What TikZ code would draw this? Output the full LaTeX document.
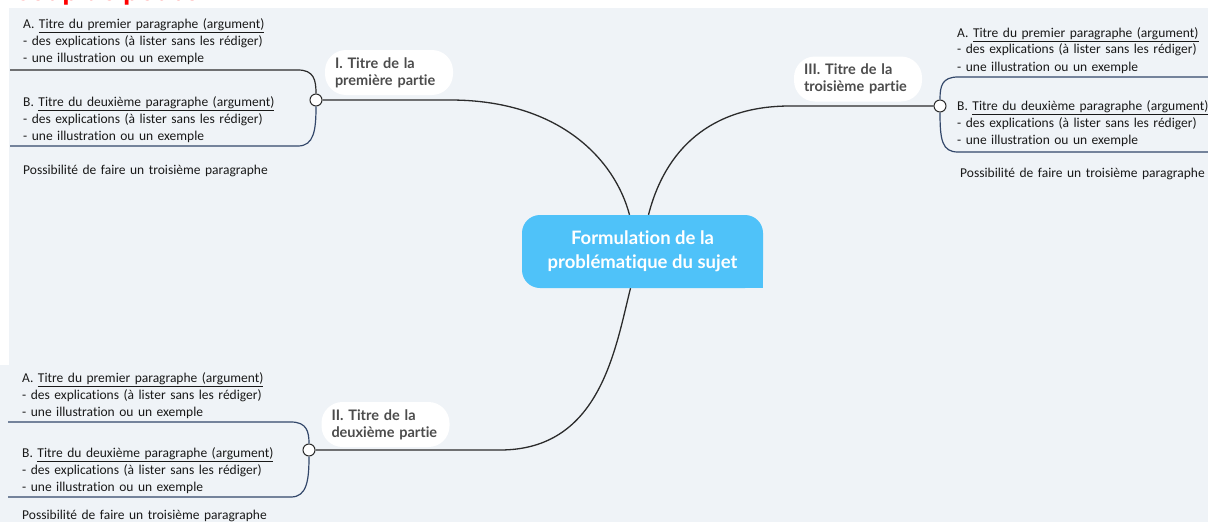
\documentclass[tikz,border=0pt]{standalone}
\usepackage{fontspec}
\setmainfont{Carlito}[Ligatures=NoCommon]
\newfontfamily\titlefont{Lato}[Ligatures=NoCommon]
\definecolor{bgpanel}{HTML}{EFF3F7}
\definecolor{cblue}{HTML}{4FC2F9}
\definecolor{linedark}{HTML}{2B2B2B}
\definecolor{braceblue}{HTML}{33476A}
\definecolor{titlegray}{HTML}{4C4C4C}
\begin{document}
\begin{tikzpicture}[x=1pt,y=-1pt,
  body/.style={anchor=base west, inner sep=0pt, text width=330pt, align=left,
    font=\fontsize{13.5}{17}\selectfont, text=black!90},
  pill/.style={fill=white, rounded corners=21pt, minimum height=45pt, text width=108pt,
    inner xsep=10pt, inner ysep=0pt, align=left,
    font=\titlefont\bfseries\fontsize{14.5}{17}\selectfont, text=titlegray},
  dot/.style={circle, draw=linedark, fill=white, line width=1pt, minimum size=12pt, inner sep=0pt},
  link/.style={draw=linedark, line width=1.3pt},
  brace/.style={draw=braceblue, line width=1.2pt},
  bracedark/.style={draw=linedark, line width=1.2pt}]
\useasboundingbox (0,0) rectangle (1208,522);
\clip (0,0) rectangle (1208,522);
\fill[white] (0,0) rectangle (1208,522);
\fill[bgpanel] (9,8) rectangle (1208,522);
\fill[bgpanel] (0,365) rectangle (9,522);

% header (cut off at the top, as in the reference)
\node[anchor=base west, inner sep=0pt, font=\bfseries\fontsize{30}{30}\selectfont, text=red] (hdr) at (14,0.5) {Coup de pouce};

% central node
\node[fill=cblue, rounded corners=18pt, minimum width=241pt, minimum height=73pt, inner sep=0pt,
  align=center, text=white, font=\titlefont\bfseries\fontsize{18.5}{24}\selectfont] (c) at (642.5,251.5)
  {Formulation de la\\problématique du sujet};
\fill[cblue] ([shift={(-18pt,18pt)}]c.south east) rectangle (c.south east);

% pills
\node[pill] (p1) at (389,72.5) {I. Titre de la\\première partie};
\node[pill] (p3) at (858,79) {III. Titre de la\\troisième partie};
\node[pill] (p2) at (385.5,424.5) {II. Titre de la\\deuxième partie};

% connectors
\node[dot] (d1) at (316,100) {};
\node[dot] (d3) at (940,106) {};
\node[dot] (d2) at (309,450) {};
\draw[link] (d1.east) -- (450,100) .. controls (560,100) and (615,160) .. ([xshift=-13pt]c.north);
\draw[link] (d3.west) -- (790,106) .. controls (710,106) and (665,150) .. ([xshift=6pt]c.north);
\draw[link] ([xshift=-12pt]c.south) .. controls (615,350) and (600,450) .. (500,450) -- (d2.east);

% brackets
\draw[bracedark] (d1.north) .. controls (316,80) and (314,70) .. (298,70) -- (10,70);
\draw[brace] (d1.south) .. controls (316,130) and (314,146) .. (298,146) -- (10,146);
\draw[brace] (d3.north) .. controls (940,86) and (942,77) .. (958,77) -- (1210,77);
\draw[brace] (d3.south) .. controls (940,140) and (942,152) .. (958,152) -- (1210,152);
\draw[brace] (d2.north) .. controls (309,432) and (307,422) .. (291,422) -- (8,422);
\draw[brace] (d2.south) .. controls (309,480) and (307,497) .. (291,497) -- (8,497);

% text blocks
\node[body] (a1) at (23,28) {A. \underline{Titre du premier paragraphe (argument)}\\- des explications (à lister sans les rédiger)\\- une illustration ou un exemple};
\node[body] (b1) at (23,106) {B. \underline{Titre du deuxième paragraphe (argument)}\\- des explications (à lister sans les rédiger)\\- une illustration ou un exemple};
\node[body] (t1) at (23,174) {Possibilité de faire un troisième paragraphe};

\node[body] (a3) at (957,37) {A. \underline{Titre du premier paragraphe (argument)}\\- des explications (à lister sans les rédiger)\\- une illustration ou un exemple};
\node[body] (b3) at (957,110) {B. \underline{Titre du deuxième paragraphe (argument)}\\- des explications (à lister sans les rédiger)\\- une illustration ou un exemple};
\node[body] (t3) at (960,177) {Possibilité de faire un troisième paragraphe};

\node[body] (a2) at (22,382) {A. \underline{Titre du premier paragraphe (argument)}\\- des explications (à lister sans les rédiger)\\- une illustration ou un exemple};
\node[body] (b2) at (22,457) {B. \underline{Titre du deuxième paragraphe (argument)}\\- des explications (à lister sans les rédiger)\\- une illustration ou un exemple};
\node[body] (t2) at (22,519) {Possibilité de faire un troisième paragraphe};
\end{tikzpicture}
\end{document}
